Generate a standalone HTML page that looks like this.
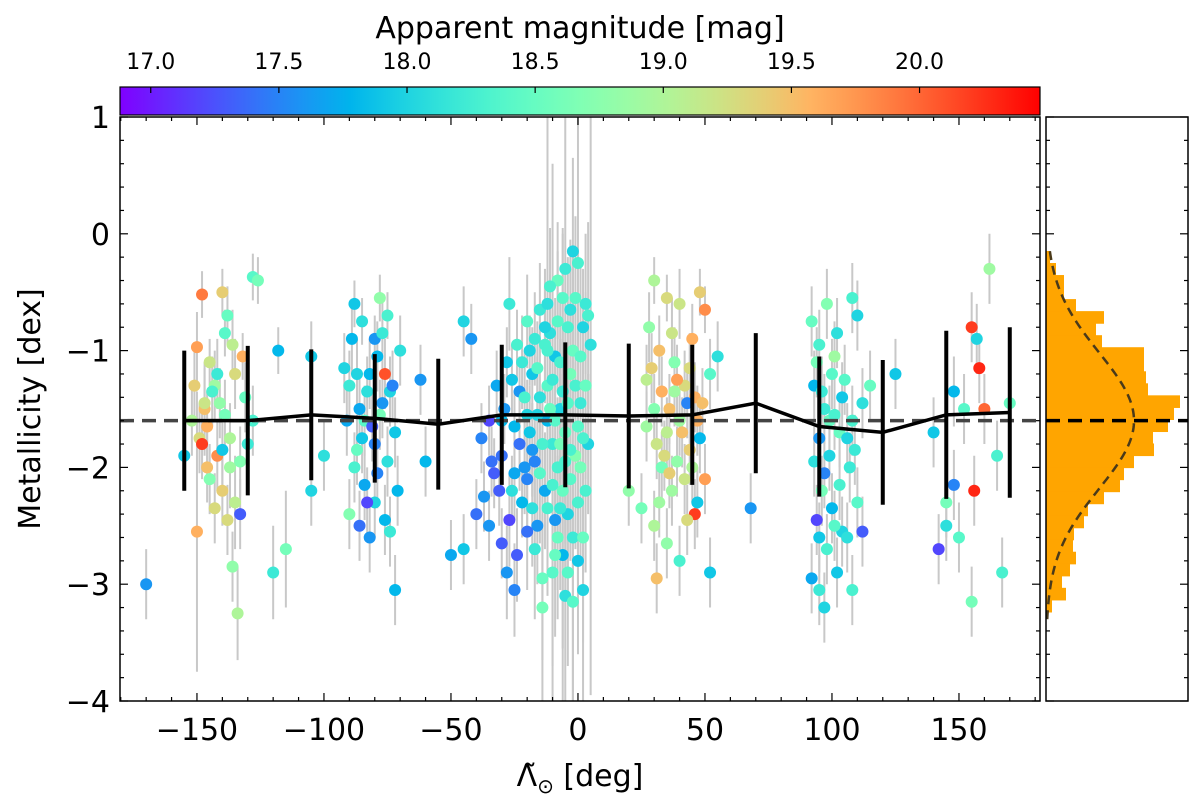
<!DOCTYPE html>
<html><head><meta charset="utf-8">
<style>
html,body{margin:0;padding:0;background:#fff;}
svg{display:block;font-family:"DejaVu Sans","Liberation Sans",sans-serif;}
</style></head>
<body>
<svg id="chart" width="1200" height="811" viewBox="0 0 1200 811" xmlns="http://www.w3.org/2000/svg">
<defs>
<linearGradient id="cmap" x1="0" x2="1" y1="0" y2="0"></linearGradient>
<clipPath id="clipMain"><rect x="120" y="117" width="920" height="584"/></clipPath>
</defs>
<g id="main" clip-path="url(#clipMain)"></g>
<g id="over"></g>
</svg>
<script>
// ---- data ----
const pointsA = [
[-148,-0.52,19.9,0.2],[-150,-0.97,19.7,0.3],[-140,-0.5,19.4,0.2],[-138,-0.7,18.5,0.25],[-145,-1.1,19.2,0.2],[-143,-1.3,18.9,0.3],[-135,-1.2,19.3,0.3],[-132,-1.05,19.6,0.2],[-128,-0.37,18.4,0.2],[-126,-0.4,18.6,0.2],[-147,-1.5,19.5,0.4],[-152,-1.6,19.0,0.3],[-149,-1.75,19.3,0.3],[-142,-1.9,19.8,0.3],[-137,-2.0,18.9,0.35],[-140,-2.2,19.4,0.3],[-135,-2.3,19.1,0.4],[-138,-2.45,19.3,0.3],[-133,-2.4,17.3,0.3],[-150,-2.55,19.6,1.2],[-145,-2.1,18.7,0.3],[-130,-1.8,18.2,0.3],[-136,-2.85,18.8,0.3],[-134,-3.25,19.0,0.4],[-170,-3.0,17.6,0.3],[-155,-1.9,17.9,0.3],[-120,-2.9,18.2,0.4],[-118,-1.0,17.8,0.2],[-128,-1.6,18.3,0.3],[-115,-2.7,18.6,0.5],[-139,-0.85,18.4,0.2],[-141,-1.45,18.8,0.3],[-146,-2.0,19.5,0.3],[-144,-1.35,18.3,0.3],[-148,-1.8,20.2,0.3],
[-151,-1.3,19.4,0.3],[-146,-1.65,19.6,0.3],[-142,-1.2,18.2,0.3],[-139,-1.55,18.6,0.3],[-137,-1.75,19.0,0.3],[-143,-2.35,19.3,0.3],[-131,-1.4,18.5,0.3],[-133,-1.95,18.7,0.3],[-147,-1.45,19.2,0.3],[-136,-0.95,19.1,0.3],[-140,-1.85,17.9,0.3]
];
const pointsB = [
[-105,-1.05,17.9,0.3],[-100,-1.9,18.1,0.3],[-105,-2.2,18.0,0.3],[-88,-0.6,17.9,0.2],[-85,-0.75,18.1,0.2],[-80,-0.9,17.6,0.2],[-78,-0.55,18.8,0.2],[-75,-0.7,18.3,0.2],[-82,-1.2,17.8,0.3],[-76,-1.2,20.1,0.3],[-74,-1.35,18.0,0.3],[-90,-1.3,18.2,0.3],[-86,-1.5,17.7,0.3],[-84,-1.6,18.4,0.3],[-80,-1.8,17.5,0.3],[-78,-1.55,18.6,0.3],[-72,-1.7,17.9,0.3],[-88,-2.0,18.3,0.3],[-84,-2.15,17.7,0.3],[-80,-2.3,18.0,0.3],[-86,-2.5,17.4,0.3],[-82,-2.6,17.6,0.3],[-76,-2.45,17.8,0.3],[-74,-2.55,18.2,0.3],[-72,-3.05,17.8,0.3],[-90,-2.4,18.7,0.3],[-70,-1.0,18.1,0.3],[-62,-1.25,17.6,0.3],[-60,-1.95,17.8,0.3],[-92,-1.15,18.0,0.3],[-79,-1.05,17.8,0.3],[-87,-1.85,18.5,0.3],[-75,-1.95,18.1,0.3],
[-89,-0.9,17.8,0.3],[-83,-1.35,18.1,0.3],[-77,-1.45,17.6,0.3],[-81,-1.65,17.3,0.3],[-85,-1.75,17.9,0.3],[-73,-1.3,17.5,0.3],[-79,-2.05,17.5,0.3],[-83,-2.3,17.2,0.3],[-87,-1.2,18.0,0.3],[-71,-2.2,17.8,0.3],[-91,-1.6,17.7,0.3],[-77,-0.85,18.2,0.3]
];
const pointsC = [
[-50,-2.75,17.7,0.3],[-45,-2.7,17.9,0.3],[-40,-2.4,17.4,0.3],[-35,-2.5,17.6,0.3],[-30,-2.65,17.3,0.3],[-28,-2.9,17.6,0.4],[-25,-3.05,17.5,0.4],[-22,-2.3,17.8,0.3],[-35,-1.6,17.2,0.3],[-38,-1.75,17.5,0.3],[-30,-1.9,17.4,0.3],[-25,-1.65,17.8,0.3],[-20,-1.55,18.0,0.3],[-32,-1.3,17.7,0.3],[-28,-1.1,17.9,0.3],[-24,-0.95,18.3,0.3],[-20,-0.75,18.4,0.4],[-15,-0.65,18.2,0.4],[-12,-0.6,18.1,2.5],[-8,-0.4,18.5,0.5],[-5,-0.3,18.2,2.6],[-2,-0.15,18.0,0.8],[0,-0.25,18.3,2.8],[3,-0.6,18.2,0.6],[5,-0.95,18.1,3.0],[-18,-1.2,17.9,0.4],[-15,-1.4,18.1,0.5],[-12,-1.6,17.8,0.5],[-10,-1.8,18.2,2.4],[-8,-2.0,18.3,0.6],[-6,-2.2,18.5,2.2],[-4,-2.4,18.0,0.7],[-2,-2.6,18.2,2.5],[0,-2.8,17.9,0.8],[-10,-2.9,18.4,0.8],[-5,-3.1,18.1,1.0],[2,-3.05,18.0,1.0],[-14,-3.2,18.6,0.8],[-16,-2.5,17.6,0.5],[-20,-2.1,17.5,0.4],[-18,-1.85,17.6,0.4],[-13,-2.2,17.7,0.5],[-7,-1.5,18.0,0.6],[-3,-1.2,18.6,0.6],[1,-1.45,18.2,0.7],[4,-1.8,18.0,0.6],[3,-2.2,18.3,0.7],[-9,-1.05,17.9,0.5],[-11,-0.85,18.1,0.5],[-4,-0.8,18.3,0.6],[-1,-0.55,18.4,0.7],[-17,-2.7,18.2,0.6],[-6,-2.75,17.8,0.8],[-26,-2.2,18.1,0.3],[-33,-2.05,17.3,0.3],[-23,-1.35,17.6,0.3],[-19,-1.0,18.0,0.3],[-45,-0.75,18.0,0.3],[-42,-0.9,17.6,0.3],[-27,-0.6,18.2,0.4],[2,-0.8,18.0,0.5],[-9,-2.45,17.6,0.6],[-1,-1.9,18.7,0.8],[-12,-1.3,18.4,0.5],
[-22,-1.1,18.2,0.4],[-21,-1.4,18.3,0.4],[-19,-1.7,17.9,0.4],[-17,-1.95,17.5,0.4],[-16,-1.15,18.4,0.4],[-14,-1.8,18.3,0.5],[-13,-0.95,18.3,0.5],[-11,-1.5,18.5,0.6],[-10,-1.25,18.2,0.6],[-9,-1.6,18.4,0.6],[-8,-0.75,18.4,0.6],[-7,-1.1,18.3,0.6],[-6,-1.35,18.2,0.6],[-5,-1.7,18.5,0.7],[-4,-1.45,18.4,0.7],[-3,-1.85,18.3,0.7],[-2,-1.0,18.5,0.7],[-1,-1.3,18.3,0.8],[0,-1.65,18.4,0.8],[1,-1.05,18.4,0.8],[2,-1.75,18.3,0.8],[3,-1.3,18.5,0.8],[4,-0.7,18.3,0.8],[-15,-2.05,18.4,0.6],[-12,-2.35,18.3,0.6],[-8,-2.6,18.5,0.7],[-4,-2.9,18.4,0.8],[0,-2.3,18.3,0.8],[2,-2.6,18.5,0.9],[-7,-2.35,18.2,0.7],[-3,-2.1,18.4,0.7],[-10,-2.15,18.3,0.6],[-18,-2.35,18.1,0.5],[-20,-2.55,17.4,0.5],[-24,-2.75,17.3,0.4],[-27,-2.45,17.2,0.4],[-31,-2.2,17.3,0.3],[-34,-1.95,17.4,0.3],[-37,-2.25,17.6,0.3],[-29,-1.5,17.6,0.3],[-26,-1.25,17.9,0.3],[-23,-1.8,17.4,0.4],[-21,-2.0,17.6,0.4],[-11,-0.45,18.3,0.5],[-6,-0.55,18.4,0.6],[-3,-0.65,18.1,0.6],[-13,-0.8,18.0,0.5],[-17,-0.9,18.2,0.4],[1,-2.0,18.6,0.8],[-5,-1.95,18.3,0.7],[-16,-1.55,18.0,0.5],[-25,-2.05,17.7,0.4],[-30,-1.6,17.8,0.3],[-9,-2.75,18.5,0.7],[-2,-3.15,18.4,1.0],[-14,-2.95,18.5,0.7],[-12,-1.0,18.3,0.5],[-7,-1.8,18.6,0.6]
];
const pointsD = [
[30,-0.4,19.0,0.2],[35,-0.55,19.3,0.2],[40,-0.6,19.2,0.3],[45,-0.9,19.6,0.3],[50,-0.65,19.8,0.2],[48,-0.5,19.4,0.2],[28,-0.8,18.8,0.3],[32,-1.0,19.5,0.3],[38,-1.1,18.7,0.3],[42,-1.3,19.3,0.3],[46,-1.4,19.6,0.3],[52,-1.2,18.4,0.3],[30,-1.5,18.7,0.3],[35,-1.7,19.1,0.3],[40,-1.6,18.9,0.3],[44,-1.85,19.4,0.3],[48,-1.75,17.8,0.3],[33,-2.0,18.6,0.3],[37,-2.2,18.9,0.3],[42,-2.1,19.2,0.3],[47,-2.3,17.9,0.3],[50,-2.1,19.7,0.3],[46,-2.4,20.2,0.3],[30,-2.5,19.0,0.3],[35,-2.65,18.8,0.3],[31,-2.95,19.5,0.3],[40,-2.8,18.3,0.3],[52,-2.9,17.9,0.3],[25,-2.35,18.6,0.3],[20,-2.2,18.8,0.3],[38,-1.35,18.9,0.3],[27,-1.25,19.1,0.3],[55,-1.05,18.1,0.3],[68,-2.35,17.6,0.3],[43,-1.45,17.5,0.3],[34,-1.9,19.3,0.3],
[29,-1.15,19.4,0.3],[33,-1.35,19.6,0.3],[36,-1.5,19.5,0.3],[39,-1.25,19.7,0.3],[41,-1.7,19.5,0.3],[44,-1.15,19.3,0.3],[47,-1.6,19.6,0.3],[31,-1.8,19.2,0.3],[36,-2.05,19.4,0.3],[39,-1.95,18.8,0.3],[45,-2.0,19.0,0.3],[49,-1.45,19.5,0.3],[32,-2.3,18.9,0.3],[43,-2.45,19.3,0.3],[27,-1.65,18.9,0.3],[37,-0.85,19.2,0.3]
];
const pointsE = [
[92,-0.75,18.5,0.3],[95,-0.95,18.3,0.3],[98,-0.6,18.7,0.3],[102,-0.85,18.1,0.3],[108,-0.55,18.3,0.3],[110,-0.7,18.0,0.3],[93,-1.3,17.8,0.3],[97,-1.5,18.2,0.3],[100,-1.2,18.4,0.3],[104,-1.4,17.9,0.3],[108,-1.6,18.3,0.3],[112,-1.45,18.1,0.3],[95,-1.75,17.6,0.3],[99,-1.9,18.0,0.3],[103,-1.7,18.5,0.3],[107,-2.0,18.2,0.3],[96,-2.2,18.6,0.3],[100,-2.35,17.8,0.3],[104,-2.55,18.0,0.3],[94,-2.45,17.2,0.3],[98,-2.7,18.3,0.3],[102,-2.9,17.9,0.3],[95,-3.05,18.2,0.3],[97,-3.2,18.0,0.3],[108,-3.05,18.3,0.3],[112,-2.55,17.3,0.3],[92,-2.95,17.7,0.3],[110,-2.3,18.4,0.3],[125,-1.2,17.9,0.3],[115,-1.3,18.5,0.3],[106,-2.6,18.1,0.3],[101,-1.05,18.9,0.3],
[94,-1.1,18.6,0.3],[96,-1.35,18.2,0.3],[99,-1.6,18.5,0.3],[101,-1.55,18.3,0.3],[105,-1.25,18.4,0.3],[106,-1.75,18.0,0.3],[93,-1.95,18.1,0.3],[97,-2.05,17.5,0.3],[103,-2.15,18.3,0.3],[109,-1.85,18.2,0.3],[95,-2.6,17.9,0.3],[101,-2.5,18.4,0.3]
];
const pointsF = [
[162,-0.3,18.9,0.3],[155,-0.8,20.2,0.3],[157,-0.9,18.0,0.3],[158,-1.15,20.3,0.3],[148,-1.35,17.8,0.3],[152,-1.5,18.4,0.3],[160,-1.5,20.0,0.3],[170,-1.45,18.5,0.3],[165,-1.9,18.3,0.3],[156,-2.2,20.3,0.3],[145,-2.3,18.6,0.3],[140,-1.7,17.9,0.3],[148,-2.15,17.5,0.3],[150,-2.6,18.4,0.3],[142,-2.7,17.2,0.3],[155,-3.15,18.6,0.3],[167,-2.9,18.3,0.3],[145,-2.5,18.1,0.3]
];
const points = pointsA.concat(pointsB, pointsC, pointsD, pointsE, pointsF);
const binCenters = [-155,-130,-105,-80,-55,-30,-5,20,45,70,95,120,145,170];
const binMeans = [-1.6,-1.6,-1.55,-1.58,-1.63,-1.55,-1.55,-1.56,-1.55,-1.45,-1.65,-1.7,-1.55,-1.53];
const binStd = [0.6,0.64,0.56,0.55,0.56,0.6,0.62,0.62,0.6,0.6,0.6,0.62,0.72,0.73];
const histStart = -0.147, histBinWidth = 0.103;
const histCounts = [4,10,18,18,30,58,50,56,98,98,100,102,134,128,122,107,108,88,78,74,58,42,38,28,27,30,24,16,20,6];
const meanFeH = -1.6, sigmaFeH = 0.58, gaussPeak = 88;
const xTicks = [-150,-100,-50,0,50,100,150];
const yTicks = [1,0,-1,-2,-3,-4];
const cbTicks = [17.0,17.5,18.0,18.5,19.0,19.5,20.0];

// ---- scales ----
const X0=120,X1=1040,Y0=117,Y1=701;
const xMin=-180.3,xMax=181.9,yMin=-4,yMax=1;
const xs=v=>X0+(v-xMin)/(xMax-xMin)*(X1-X0);
const ys=v=>Y0+(yMax-v)/(yMax-yMin)*(Y1-Y0);
const mMin=16.88,mMax=20.47;
const HX0=1046,HX1=1188;
function rainbow(t){t=Math.max(0,Math.min(1,t));
 const r=Math.min(1,Math.abs(2*t-0.5)),g=Math.sin(Math.PI*t),b=Math.cos(Math.PI*t/2);
 return `rgb(${Math.round(r*255)},${Math.round(g*255)},${Math.round(b*255)})`;}
const cmag=m=>rainbow((m-mMin)/(mMax-mMin));

const NS="http://www.w3.org/2000/svg";
const svg=document.getElementById('chart');
const main=document.getElementById('main');
const over=document.getElementById('over');
function mk(tag,attrs,parent){const e=document.createElementNS(NS,tag);for(const k in attrs)e.setAttribute(k,attrs[k]);(parent||svg).appendChild(e);return e;}

// colorbar gradient
const grad=document.getElementById('cmap');
for(let i=0;i<=20;i++){const s=document.createElementNS(NS,'stop');s.setAttribute('offset',i/20);s.setAttribute('stop-color',rainbow(i/20));grad.appendChild(s);}
const cb=mk('rect',{x:X0,y:87,width:X1-X0,height:28,fill:'url(#cmap)',stroke:'#000','stroke-width':1.2},over);


cbTicks.forEach(t=>{const x=X0+(t-mMin)/(mMax-mMin)*(X1-X0);
 mk('line',{x1:x,x2:x,y1:87,y2:93,stroke:'#000','stroke-width':1.2},over);
 const tx=mk('text',{x:x,y:69,'font-size':22,'text-anchor':'middle'},over);tx.textContent=t.toFixed(1);
 
 
});
const cbt=mk('text',{x:580,y:38,'font-size':30,'text-anchor':'middle'},over);
cbt.textContent='Apparent magnitude [mag]';



// error bars
points.forEach(p=>{const x=xs(p[0]);
 const l=mk('line',{x1:x,x2:x,y1:ys(p[1]+p[3]),y2:ys(p[1]-p[3]),stroke:'#c8c8c8','stroke-width':2},main);
 
 
});
// points
points.forEach(p=>{
 const c=mk('circle',{cx:xs(p[0]),cy:ys(p[1]),r:6,fill:cmag(p[2])},main);
 
 
});
// mean dashed line
const hl=mk('line',{x1:X0,x2:X1,y1:ys(meanFeH),y2:ys(meanFeH),stroke:'#444','stroke-width':3.5,'stroke-dasharray':'14,8'},main);


// binned stds
binCenters.forEach((c,i)=>{const x=xs(c);
 const l=mk('line',{x1:x,x2:x,y1:ys(binMeans[i]+binStd[i]),y2:ys(binMeans[i]-binStd[i]),stroke:'#000','stroke-width':4},main);
 
 
});
const pl=mk('polyline',{points:binCenters.map((c,i)=>xs(c)+','+ys(binMeans[i])).join(' '),fill:'none',stroke:'#000','stroke-width':3.5},main);



// main frame and ticks
const fr=mk('rect',{x:X0,y:Y0,width:X1-X0,height:Y1-Y0,fill:'none',stroke:'#000','stroke-width':1.5},over);


for(let v=-180;v<=180;v+=10){const x=xs(v);const major=v%50===0;const L=major?8:4;
 mk('line',{x1:x,x2:x,y1:Y1,y2:Y1-L,stroke:'#000','stroke-width':1.2},over);
 mk('line',{x1:x,x2:x,y1:Y0,y2:Y0+L,stroke:'#000','stroke-width':1.2},over);}
xTicks.forEach(v=>{const t=mk('text',{x:xs(v),y:740,'font-size':30,'text-anchor':'middle'},over);
 t.textContent=(v<0?'\u2212':'')+Math.abs(v);
 
 });
for(let i=0;i<=25;i++){const v=1-i*0.2;const y=ys(v);const major=i%5===0;const L=major?8:4;
 mk('line',{x1:X0,x2:X0+L,y1:y,y2:y,stroke:'#000','stroke-width':1.2},over);
 mk('line',{x1:X1,x2:X1-L,y1:y,y2:y,stroke:'#000','stroke-width':1.2},over);
 mk('line',{x1:HX0,x2:HX0+L,y1:y,y2:y,stroke:'#000','stroke-width':1.2},over);
 mk('line',{x1:HX1,x2:HX1-L,y1:y,y2:y,stroke:'#000','stroke-width':1.2},over);}
yTicks.forEach(v=>{const t=mk('text',{x:110,y:ys(v)+11,'font-size':30,'text-anchor':'end'},over);
 t.textContent=(v<0?'\u2212':'')+Math.abs(v);
 
 });
const xt=mk('text',{x:580,y:786,'font-size':30,'text-anchor':'middle'},over);
xt.innerHTML='\u039B\u0303<tspan font-size="20" dy="7">\u2299</tspan><tspan dy="-7"> [deg]</tspan>';


const yt=mk('text',{x:0,y:0,'font-size':30,'text-anchor':'middle',transform:'translate(40,409) rotate(-90)'},over);
yt.textContent='Metallicity [dex]';



// histogram
const hg=mk('g',{},over);


histCounts.forEach((c,i)=>{const top=histStart-i*histBinWidth;const y=ys(top),h=ys(top-histBinWidth)-y;
 const r=mk('rect',{x:HX0,y:y,width:c,height:h+0.6,fill:'#ffa500'},hg);
 
 });
let gp=[];for(let v=-3.3;v<=-0.1;v+=0.02){gp.push((HX0+gaussPeak*Math.exp(-0.5*((v-meanFeH)/sigmaFeH)**2))+','+ys(v));}
const gc=mk('polyline',{points:gp.join(' '),fill:'none',stroke:'#4a3a1a','stroke-width':2.5,'stroke-dasharray':'9,6'},over);


const hm=mk('line',{x1:HX0,x2:HX1,y1:ys(meanFeH),y2:ys(meanFeH),stroke:'#000','stroke-width':3.5,'stroke-dasharray':'14,8'},over);


const hf=mk('rect',{x:HX0,y:Y0,width:HX1-HX0,height:Y1-Y0,fill:'none',stroke:'#000','stroke-width':1.5},over);


</script>
</body></html>
